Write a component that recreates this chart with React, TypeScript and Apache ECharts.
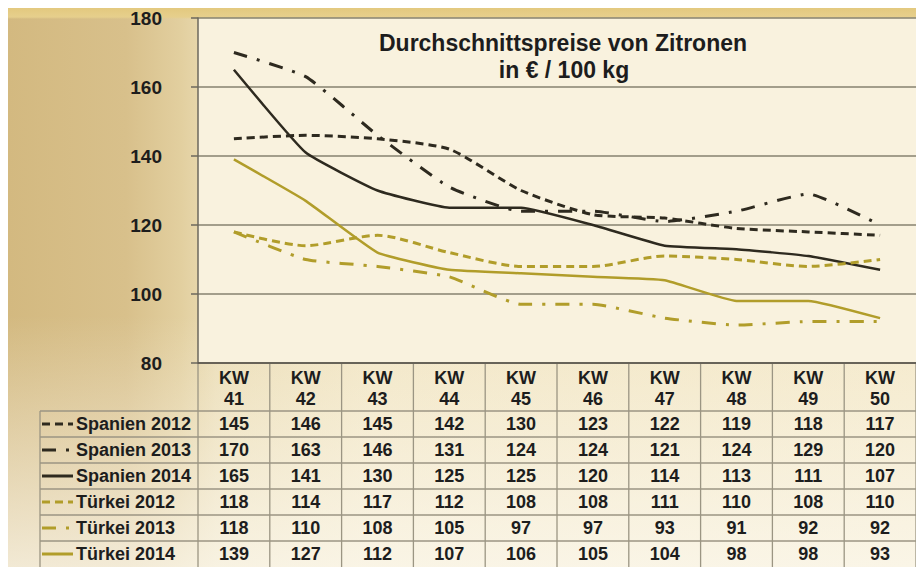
import React, { useEffect, useRef } from "react";
import * as echarts from "echarts";

// ---------- data ----------
const weeks = ["41", "42", "43", "44", "45", "46", "47", "48", "49", "50"];
const spanien2012 = [145, 146, 145, 142, 130, 123, 122, 119, 118, 117];
const spanien2013 = [170, 163, 146, 131, 124, 124, 121, 124, 129, 120];
const spanien2014 = [165, 141, 130, 125, 125, 120, 114, 113, 111, 107];
const tuerkei2012 = [118, 114, 117, 112, 108, 108, 111, 110, 108, 110];
const tuerkei2013 = [118, 110, 108, 105, 97, 97, 93, 91, 92, 92];
const tuerkei2014 = [139, 127, 112, 107, 106, 105, 104, 98, 98, 93];
const seriesNames = ["Spanien 2012", "Spanien 2013", "Spanien 2014", "Türkei 2012", "Türkei 2013", "Türkei 2014"];
const seriesData = [spanien2012, spanien2013, spanien2014, tuerkei2012, tuerkei2013, tuerkei2014];
const titleLines = ["Durchschnittspreise von Zitronen", "in € / 100 kg"];
const yMin = 80;
const yMax = 180;
const yStep = 20;

// ---------- styles ----------
const DARK = "#2e2a1f";
const GOLD = "#b19d2a";
const DASH = [8, 5];
const DASHDOT = [14, 10, 3, 10];
const seriesStyles = [
  { color: DARK, width: 3, dash: DASH, smooth: 0.2 },
  { color: DARK, width: 3, dash: DASHDOT, smooth: 0.15 },
  { color: DARK, width: 2.5, dash: "solid", smooth: 0.12 },
  { color: GOLD, width: 3, dash: DASH, smooth: 0.25 },
  { color: GOLD, width: 3, dash: DASHDOT, smooth: 0.15 },
  { color: GOLD, width: 2.5, dash: "solid", smooth: 0.12 },
];
const FONT = '"Liberation Sans", Arial, Helvetica, sans-serif';
const TEXT = "#1d1d1d";
const TABLE_LINE = "#9b9583";

const GRID_LEFT = 190;
const GRID_TOP = 10;
const GRID_W = 728;
const GRID_H = 345;
const W = 908;
const H = 559;
const ROW_TOP = 403;
const ROW_H = 26;
const TABLE_LEFT = 32;

function txt(text: string, x: number, y: number, size: number, align: string) {
  return {
    type: "text",
    silent: true,
    z: 10,
    style: {
      text,
      x,
      y,
      fill: TEXT,
      font: `bold ${size}px ${FONT}`,
      align,
      verticalAlign: "middle",
      textAlign: align,
      textVerticalAlign: "middle",
    },
  };
}

export default function App() {
  const ref = useRef<HTMLDivElement>(null);

  useEffect(() => {
    const chart = echarts.init(ref.current!, null, { renderer: "svg" });
    chart.setOption({
      animation: false,
      grid: {
        left: GRID_LEFT,
        top: GRID_TOP,
        width: GRID_W,
        height: GRID_H,
        show: true,
        backgroundColor: "#f9f2de",
        borderWidth: 0,
      },
      xAxis: {
        type: "category",
        data: weeks,
        boundaryGap: true,
        axisLine: { show: true, lineStyle: { color: "#555048", width: 1.5 } },
        axisTick: { show: false },
        axisLabel: {
          formatter: (v: string) => `KW\n${v}`,
          fontFamily: FONT,
          fontWeight: "bold",
          fontSize: 18,
          lineHeight: 21,
          margin: 4,
          color: TEXT,
        },
        splitLine: { show: false },
      },
      yAxis: {
        type: "value",
        min: yMin,
        max: yMax,
        interval: yStep,
        axisLine: { show: true, lineStyle: { color: "#6b675c", width: 1.5 } },
        axisTick: { show: true, length: 7, lineStyle: { color: "#6b675c", width: 1.5 } },
        axisLabel: {
          fontFamily: FONT,
          fontWeight: "bold",
          fontSize: 19,
          margin: 36,
          color: TEXT,
        },
        splitLine: { show: true, lineStyle: { color: "#86826f", width: 1.5 } },
      },
      series: seriesData.map((d, i) => ({
        name: seriesNames[i],
        type: "line",
        data: d,
        smooth: seriesStyles[i].smooth,
        symbol: "none",
        lineStyle: {
          color: seriesStyles[i].color,
          width: seriesStyles[i].width,
          type: seriesStyles[i].dash,
        },
      })),
    });

    const cx = weeks.map((_, i) => chart.convertToPixel({ xAxisIndex: 0 }, i) as number);
    const bw = cx[1] - cx[0];
    const axisBottom = chart.convertToPixel({ yAxisIndex: 0 }, yMin) as number;

    const g: any[] = [];
    // title
    g.push(txt(titleLines[0], 555, 35, 23, "center"));
    g.push(txt(titleLines[1], 556, 62, 23, "center"));

    // table lines
    for (let k = 0; k < seriesNames.length; k++) {
      const y = ROW_TOP + ROW_H * k;
      g.push({
        type: "line",
        silent: true,
        shape: { x1: TABLE_LEFT, y1: y, x2: W, y2: y },
        style: { stroke: TABLE_LINE, lineWidth: 1.3 },
      });
    }
    g.push({
      type: "line",
      silent: true,
      shape: { x1: TABLE_LEFT, y1: ROW_TOP, x2: TABLE_LEFT, y2: H },
      style: { stroke: TABLE_LINE, lineWidth: 1.3 },
    });
    for (let i = 0; i <= weeks.length; i++) {
      const x = cx[0] - bw / 2 + bw * i;
      g.push({
        type: "line",
        silent: true,
        shape: { x1: x, y1: axisBottom, x2: x, y2: H },
        style: { stroke: TABLE_LINE, lineWidth: 1.3 },
      });
    }

    // rows
    seriesData.forEach((d, r) => {
      const y = ROW_TOP + ROW_H * r + ROW_H / 2;
      const st = seriesStyles[r];
      g.push({
        type: "line",
        silent: true,
        z: 10,
        shape: { x1: 34, y1: y, x2: 65, y2: y },
        style: {
          stroke: st.color,
          lineWidth: 3,
          lineDash: st.dash === "solid" ? null : st.dash,
        },
      });
      g.push(txt(seriesNames[r], 68, y, 18, "left"));
      d.forEach((v, i) => {
        g.push(txt(String(v), cx[i], y, 18, "center"));
      });
    });

    chart.setOption({ graphic: g });

    return () => chart.dispose();
  }, []);

  return (
    <div
      ref={ref}
      style={{
        position: "fixed",
        left: 8,
        top: 8,
        width: W,
        height: H,
        background:
          "linear-gradient(180deg, #e3c97f 0px, #e6cf8c 9px, rgba(255,255,255,0) 11px)," +
          "linear-gradient(180deg, rgba(255,255,255,0) 0%, rgba(255,255,255,0) 55%, rgba(252,249,240,0.75) 100%)," +
          "linear-gradient(90deg, #d3b980 0%, #d8c08b 13%, #e2cf9f 19%, #ebddb6 23%, #f2e6c5 40%, #f4e9ca 100%)",
      }}
    />
  );
}
